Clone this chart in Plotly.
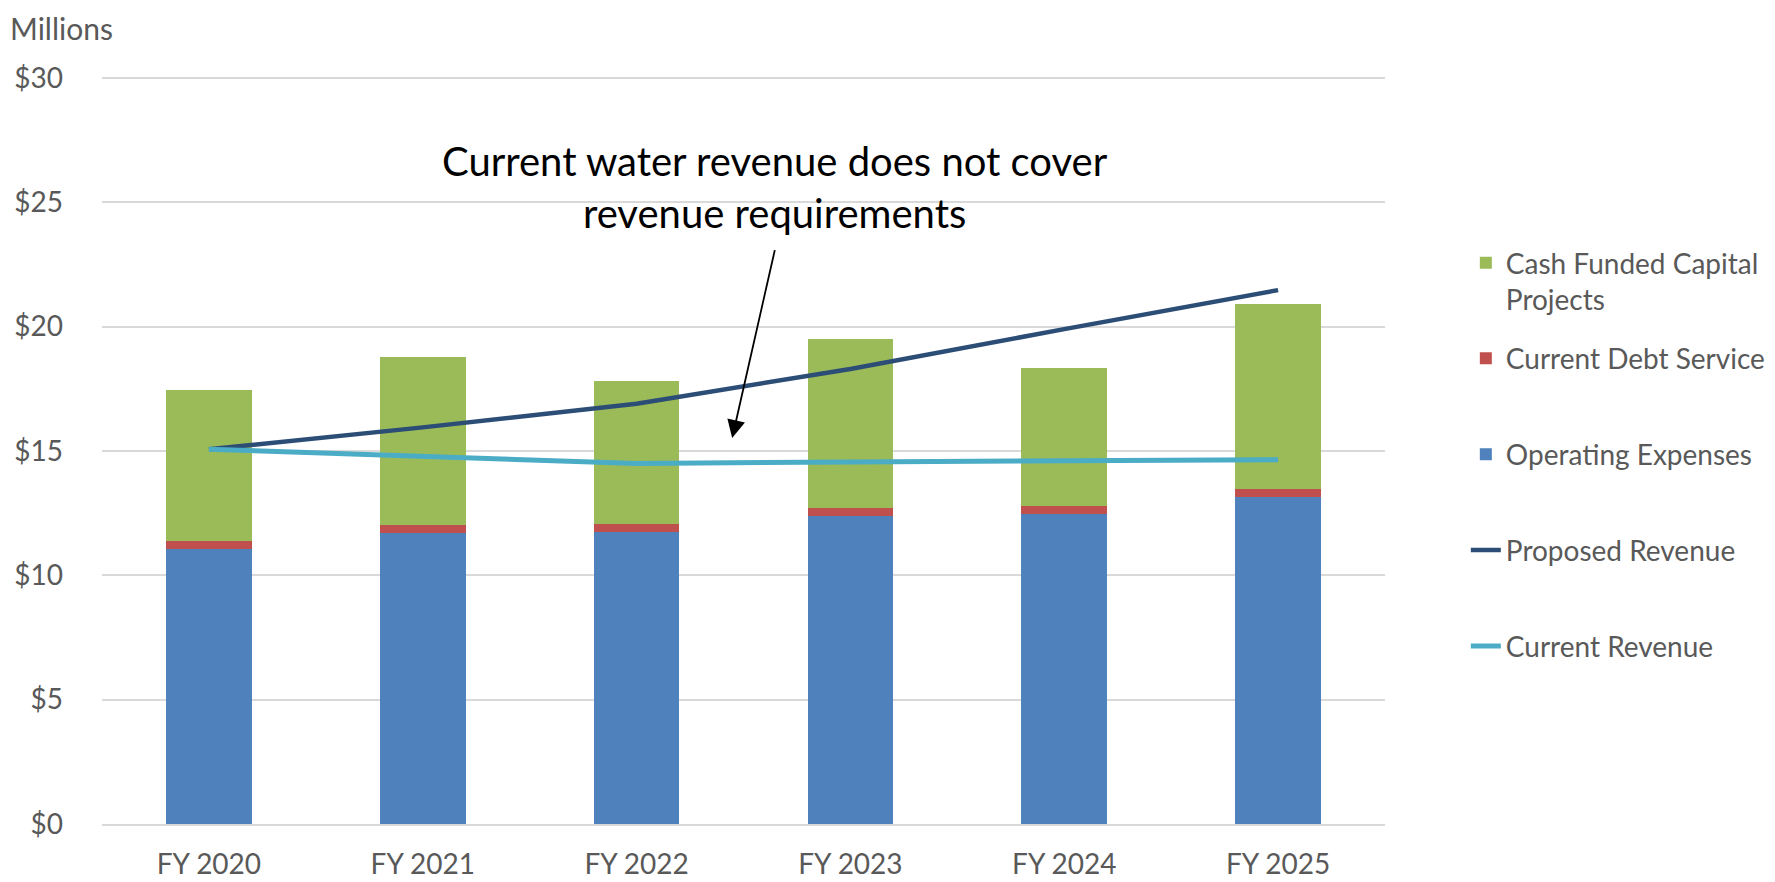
import plotly.graph_objects as go

categories = ["FY 2020", "FY 2021", "FY 2022", "FY 2023", "FY 2024", "FY 2025"]
operating_expenses = [11.05, 11.69, 11.73, 12.39, 12.45, 13.14]
current_debt_service = [0.34, 0.35, 0.35, 0.33, 0.35, 0.32]
cash_funded_capital = [6.06, 6.76, 5.73, 6.79, 5.52, 7.47]
proposed_revenue = [15.07, 15.95, 16.90, 18.30, 19.90, 21.47]
current_revenue = [15.07, 14.77, 14.50, 14.56, 14.60, 14.65]
y_ticks = [0, 5, 10, 15, 20, 25, 30]
y_tick_text = ["$" + str(v) for v in y_ticks]

FONT = "Lato"
GRAY = "#595959"

fig = go.Figure()
fig.add_trace(go.Bar(x=categories, y=operating_expenses, name="Operating Expenses",
                     marker=dict(color="#4F81BD", line=dict(width=0)),
                     legend="legend2", legendgroup="g3", legendrank=3))
fig.add_trace(go.Bar(x=categories, y=current_debt_service, name="Current Debt Service",
                     marker=dict(color="#C0504D", line=dict(width=0)),
                     legend="legend2", legendgroup="g2", legendrank=2))
fig.add_trace(go.Bar(x=categories, y=cash_funded_capital, name="Cash Funded Capital<br>Projects",
                     marker=dict(color="#9BBB59", line=dict(width=0)),
                     legend="legend", legendgroup="g1", legendrank=1))
fig.add_trace(go.Scatter(x=categories, y=proposed_revenue, name="Proposed Revenue",
                         mode="lines", line=dict(color="#2C4D75", width=4.5),
                         legend="legend2", legendgroup="g4", legendrank=4))
fig.add_trace(go.Scatter(x=categories, y=current_revenue, name="Current Revenue",
                         mode="lines", line=dict(color="#4BACC6", width=5),
                         legend="legend2", legendgroup="g5", legendrank=5))

legend_font = dict(family=FONT, size=28, color=GRAY)

fig.update_layout(
    width=1767, height=874,
    margin=dict(l=94, r=390, t=68, b=58, autoexpand=False),
    paper_bgcolor="white", plot_bgcolor="white",
    barmode="stack", bargap=0.6,
    font=dict(family=FONT, size=28, color=GRAY),
    showlegend=True,
    legend=dict(x=1.063, xanchor="left", y=0.7834, yanchor="top",
                valign="top", font=legend_font, bgcolor="rgba(0,0,0,0)"),
    legend2=dict(x=1.063, xanchor="left", y=0.6557, yanchor="top",
                 traceorder="grouped", tracegroupgap=56.5, valign="top",
                 font=legend_font, bgcolor="rgba(0,0,0,0)"),
    xaxis=dict(showgrid=False, showline=True, linecolor="#D9D9D9", linewidth=2,
               ticks="", ticklabelstandoff=14, automargin=False,
               tickfont=dict(family=FONT, size=28, color=GRAY)),
    yaxis=dict(range=[0, 30.08], tickmode="array", tickvals=y_ticks, ticktext=y_tick_text,
               showgrid=True, gridcolor="#D9D9D9", gridwidth=1.5, automargin=False,
               zeroline=False, showline=False, ticks="", ticklabelstandoff=38,
               tickfont=dict(family=FONT, size=28, color=GRAY)),
)

# Unit label
fig.add_annotation(text="Millions", xref="paper", yref="paper", x=-0.0733, y=1.0909,
                   xanchor="left", yanchor="top", showarrow=False,
                   font=dict(family=FONT, size=30, color=GRAY))

# Callout text
fig.add_annotation(text="Current water revenue does not cover<br>revenue requirements",
                   xref="x", yref="y", x=2.645, y=25.6, xanchor="center", yanchor="middle",
                   showarrow=False, font=dict(family=FONT, size=40, color="black"))

# Callout arrow
fig.add_annotation(text="", xref="x", yref="y", x=2.447, y=15.52,
                   axref="x", ayref="y", ax=2.648, ay=23.14,
                   showarrow=True, arrowhead=2, arrowsize=2, arrowwidth=1.8,
                   arrowcolor="black")

fig.write_html("out.html")
